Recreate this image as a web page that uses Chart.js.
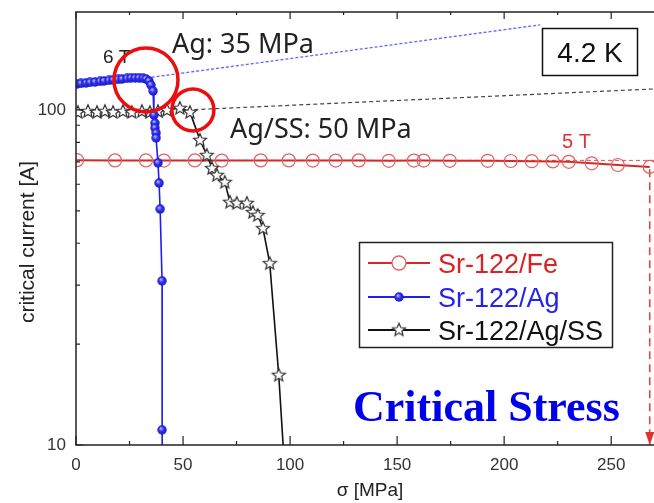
<!DOCTYPE html>
<html><head><meta charset="utf-8">
<script src="https://cdn.jsdelivr.net/npm/chart.js@4.4.0/dist/chart.umd.min.js"></script>
<style>html,body{margin:0;padding:0;background:#fff;}canvas{display:block;}</style>
</head><body>
<canvas id="c" width="654" height="503"></canvas>
<script>
// ---- data (sigma in MPa, critical current in A) ----
const sigmaFe = [0.5, 18.2, 32.7, 41.1, 55.5, 68.1, 86.3, 99.4, 110.6, 121.3, 132.1, 146.1, 157.8, 162.4, 174.6, 192.3, 203.1, 212.9, 222.7, 230.2, 240.9, 253.1, 268.0];
const icFe    = [70.8, 70.7, 70.7, 70.6, 70.7, 70.6, 70.7, 70.7, 70.6, 70.6, 70.7, 70.5, 70.6, 70.6, 70.5, 70.5, 70.4, 70.3, 70.2, 70.0, 69.3, 68.5, 67.6];

const sigmaAg = [0.5, 2.3, 4.7, 6.5, 8.9, 11.2, 13.1, 15.4, 17.3, 19.6, 21.5, 23.8, 25.7, 27.6, 29.4, 31.3, 32.7, 34.1, 35.0, 36.0, 36.4, 36.9, 36.9, 37.4, 37.4, 38.3, 38.8, 39.3, 40.2, 40.2, 40.3];
const icAg    = [119.6, 120.0, 120.4, 120.8, 121.2, 121.6, 122.0, 122.5, 122.9, 123.3, 123.7, 124.2, 124.6, 124.6, 124.6, 124.2, 123.7, 122.0, 118.7, 113.9, 96.6, 91.4, 88.4, 85.4, 82.5, 69.5, 60.5, 50.6, 30.9, 11.1, 9.0];

const sigmaSS = [0.9, 5.6, 9.8, 13.5, 17.3, 21.9, 26.1, 30.8, 34.5, 38.3, 42.5, 48.5, 53.2, 57.9, 61.1, 63.5, 65.8, 69.5, 71.9, 75.1, 79.8, 82.6, 84.9, 87.3, 90.5, 94.7, 97.2];
const icSS    = [98.6, 99.3, 98.6, 99.3, 98.6, 99.3, 98.6, 99.3, 98.6, 99.3, 100.0, 101.4, 98.6, 81.4, 73.4, 67.1, 64.0, 61.0, 53.2, 52.8, 52.8, 49.6, 48.6, 44.4, 34.9, 16.2, 9.0];

// guide lines
const agGuideX = [33, 216.8], agGuideY = [124.6, 179.4];
const ssGuideX = [52, 270],   ssGuideY = [100.0, 115.5];
const feGuideX = [0, 270],    feGuideY = [70.7, 70.7];
const feDropX  = [268.0, 268.0], feDropY = [66.5, 10];

const xTicks = [0, 25, 50, 75, 100, 125, 150, 175, 200, 225, 250];
const xTickLabels = ['0', '', '50', '', '100', '', '150', '', '200', '', '250'];
const yTicks = [10, 20, 30, 40, 50, 60, 70, 80, 90, 100];
const yTickLabels = ['10', '', '', '', '', '', '', '', '', '100'];

const seriesNames = ['Sr-122/Fe', 'Sr-122/Ag', 'Sr-122/Ag/SS'];

const pts = (xs, ys) => xs.map((x, i) => ({x, y: ys[i]}));

// ---- marker images ----
function starImage(size) {
  const c = document.createElement('canvas'); c.width = size; c.height = size;
  const g = c.getContext('2d'); const cx = size/2, cy = size/2 + 0.5;
  const R = size/2 - 1.2, r = R * 0.45;
  g.beginPath();
  for (let i = 0; i < 10; i++) {
    const ang = -Math.PI/2 + i * Math.PI/5; const rr = i % 2 ? r : R;
    g.lineTo(cx + rr*Math.cos(ang), cy + rr*Math.sin(ang));
  }
  g.closePath(); g.fillStyle = '#fff'; g.fill();
  g.strokeStyle = '#333'; g.lineWidth = 1.2; g.stroke();
  return c;
}
function ballImage(size) {
  const c = document.createElement('canvas'); c.width = size; c.height = size;
  const g = c.getContext('2d'); const r = size/2 - 0.3;
  const grd = g.createRadialGradient(size*0.38, size*0.35, 0.5, size/2, size/2, r);
  grd.addColorStop(0, 'rgb(170,170,255)'); grd.addColorStop(0.45, 'rgb(50,50,240)'); grd.addColorStop(1, 'rgb(25,25,200)');
  g.beginPath(); g.arc(size/2, size/2, r, 0, Math.PI*2); g.fillStyle = grd; g.fill();
  return c;
}
const STAR = starImage(16);
const BALL = ballImage(10);

const RED = 'rgb(215,40,40)', RED_PT = 'rgb(228,95,95)', BLUE = 'rgb(30,30,240)';

const overlay = {
  id: 'overlay',
  afterDraw(chart) {
    const ctx = chart.ctx, a = chart.chartArea, xs = chart.scales.x, ys = chart.scales.y;
    ctx.save();
    // frame
    ctx.strokeStyle = '#222'; ctx.lineWidth = 1.5;
    ctx.beginPath();
    ctx.moveTo(a.right + 2, a.top); ctx.lineTo(a.left, a.top); ctx.lineTo(a.left, a.bottom); ctx.lineTo(a.right + 2, a.bottom);
    ctx.stroke();
    // inward ticks
    ctx.lineWidth = 1.2; ctx.beginPath();
    xs.ticks.forEach(t => {
      const p = xs.getPixelForValue(t.value); const major = t.value % 50 === 0;
      ctx.moveTo(p, a.bottom); ctx.lineTo(p, a.bottom - (major ? 9 : 4));
      ctx.moveTo(p, a.top); ctx.lineTo(p, a.top + (major ? 7 : 3));
    });
    ys.ticks.forEach(t => {
      const p = ys.getPixelForValue(t.value); const major = (t.value === 10 || t.value === 100);
      ctx.moveTo(a.left, p); ctx.lineTo(a.left + (major ? 7 : 4), p);
    });
    ctx.stroke();

    // arrow at bottom of the drop line
    const ax = xs.getPixelForValue(feDropX[1]), ay = ys.getPixelForValue(feDropY[1]);
    ctx.fillStyle = 'rgb(220,50,50)';
    ctx.beginPath(); ctx.moveTo(ax, ay); ctx.lineTo(ax - 4.5, ay - 13); ctx.lineTo(ax + 4.5, ay - 13); ctx.closePath(); ctx.fill();

    // axis titles
    ctx.fillStyle = '#222'; ctx.font = '19px "Liberation Sans", Arial, sans-serif';
    ctx.textAlign = 'center'; ctx.textBaseline = 'alphabetic';
    ctx.fillText('σ [MPa]', 370, 496);
    ctx.font = '21px "Liberation Sans", Arial, sans-serif';
    ctx.save(); ctx.translate(34, 242); ctx.rotate(-Math.PI/2);
    ctx.fillText('critical current [A]', 0, 0); ctx.restore();

    // annotations
    ctx.textAlign = 'left';
    ctx.fillStyle = '#222'; ctx.font = '27px "Noto Sans", sans-serif';
    ctx.fillText('Ag: 35 MPa', 172, 53);
    ctx.fillText('Ag/SS: 50 MPa', 230, 138);
    ctx.font = '19px "Liberation Sans", Arial, sans-serif';
    ctx.fillText('6 T', 103, 63);
    ctx.fillStyle = 'rgb(220,50,50)'; ctx.font = '20px "Liberation Sans", Arial, sans-serif';
    ctx.fillText('5 T', 562, 148);

    // 4.2 K box
    ctx.fillStyle = '#fff'; ctx.fillRect(542, 28, 96, 48);
    ctx.strokeStyle = '#111'; ctx.lineWidth = 1.5; ctx.strokeRect(542.5, 28.5, 95, 47);
    ctx.fillStyle = '#111'; ctx.font = '28px "Liberation Sans", Arial, sans-serif'; ctx.textAlign = 'center';
    ctx.fillText('4.2 K', 590, 62);

    // highlight circles
    ctx.strokeStyle = 'rgb(238,12,12)'; ctx.lineWidth = 3.5;
    ctx.beginPath(); ctx.arc(xs.getPixelForValue(32.7), ys.getPixelForValue(122.9), 32, 0, Math.PI*2); ctx.stroke();
    ctx.beginPath(); ctx.arc(xs.getPixelForValue(54.6), ys.getPixelForValue(100), 21, 0, Math.PI*2); ctx.stroke();

    // legend
    const lx = 359, ly = 242, lw = 253, lh = 105;
    ctx.fillStyle = '#fff'; ctx.fillRect(lx, ly, lw, lh);
    ctx.strokeStyle = '#222'; ctx.lineWidth = 1.5; ctx.strokeRect(lx + 0.5, ly + 0.5, lw, lh);
    const rows = [263, 297, 330], cols = [RED, BLUE, '#111'];
    ctx.font = '27px "Liberation Sans", Arial, sans-serif'; ctx.textAlign = 'left';
    rows.forEach((ry, i) => {
      ctx.strokeStyle = cols[i]; ctx.lineWidth = 1.8;
      ctx.beginPath(); ctx.moveTo(368, ry); ctx.lineTo(430, ry); ctx.stroke();
      if (i === 0) {
        ctx.fillStyle = '#fff'; ctx.strokeStyle = RED_PT; ctx.lineWidth = 1.3;
        ctx.beginPath(); ctx.arc(399, ry, 7, 0, Math.PI*2); ctx.fill(); ctx.stroke();
      } else if (i === 1) {
        ctx.drawImage(BALL, 399 - 5, ry - 5);
      } else {
        ctx.drawImage(STAR, 399 - 8, ry - 8.5);
      }
      ctx.fillStyle = i === 0 ? 'rgb(215,35,35)' : (i === 1 ? 'rgb(35,35,235)' : '#111');
      ctx.fillText(seriesNames[i], 438, ry + 10);
    });

    // Critical Stress
    ctx.fillStyle = 'rgb(0,0,235)'; ctx.font = 'bold 44px "Liberation Serif", "Times New Roman", serif';
    ctx.fillText('Critical Stress', 353, 421);
    ctx.restore();
  }
};

new Chart(document.getElementById('c'), {
  type: 'scatter',
  data: {
    datasets: [
      { label: seriesNames[1], data: pts(sigmaAg, icAg), showLine: true, borderColor: BLUE, borderWidth: 1.6,
        pointStyle: BALL, pointRadius: 5, order: 0 },
      { label: seriesNames[2], data: pts(sigmaSS, icSS), showLine: true, borderColor: '#111', borderWidth: 1.6,
        pointStyle: STAR, pointRadius: 7, order: 1 },
      { label: seriesNames[0], data: pts(sigmaFe, icFe), showLine: true, borderColor: RED, borderWidth: 2,
        pointStyle: 'circle', pointRadius: 6.5, pointBorderColor: RED_PT, pointBackgroundColor: 'rgba(255,255,255,0)', pointBorderWidth: 1.2, order: 2 },
      { label: 'fe-guide', data: pts(feGuideX, feGuideY), showLine: true, borderColor: 'rgb(225,80,80)', borderWidth: 1, borderDash: [4, 3], pointRadius: 0, order: 3 },
      { label: 'fe-drop', data: pts(feDropX, feDropY), showLine: true, borderColor: 'rgb(225,70,70)', borderWidth: 1.6, borderDash: [8, 5], pointRadius: 0, order: 3 },
      { label: 'ag-guide', data: pts(agGuideX, agGuideY), showLine: true, borderColor: 'rgb(100,100,255)', borderWidth: 1.3, borderDash: [3, 2], pointRadius: 0, order: 4 },
      { label: 'ss-guide', data: pts(ssGuideX, ssGuideY), showLine: true, borderColor: '#444', borderWidth: 1.2, borderDash: [4, 3], pointRadius: 0, order: 4 }
    ]
  },
  options: {
    responsive: false, animation: false, devicePixelRatio: 1,
    layout: { autoPadding: false, padding: { top: 12, right: 0, left: 0, bottom: 0 } },
    plugins: { legend: { display: false }, tooltip: { enabled: false } },
    scales: {
      x: {
        type: 'linear', min: 0, max: 270,
        afterBuildTicks: s => { s.ticks = xTicks.map(v => ({value: v})); },
        afterFit: s => { s.height = 58; s.paddingLeft = 0; s.paddingRight = 0; },
        grid: { display: false, drawTicks: false }, border: { display: false },
        ticks: { padding: 10, maxRotation: 0, autoSkip: false, color: '#333', font: { family: '"Liberation Sans", Arial, sans-serif', size: 17 },
                 callback: (v) => xTickLabels[xTicks.indexOf(v)] ?? '' }
      },
      y: {
        type: 'logarithmic', min: 10, max: 196,
        afterBuildTicks: s => { s.ticks = yTicks.map(v => ({value: v})); },
        afterFit: s => { s.width = 76; s.paddingTop = 0; s.paddingBottom = 0; },
        grid: { display: false, drawTicks: false }, border: { display: false },
        ticks: { padding: 10, autoSkip: false, color: '#333', font: { family: '"Liberation Sans", Arial, sans-serif', size: 17 },
                 callback: (v) => yTickLabels[yTicks.indexOf(v)] ?? '' }
      }
    }
  },
  plugins: [overlay]
});
</script>
</body></html>
